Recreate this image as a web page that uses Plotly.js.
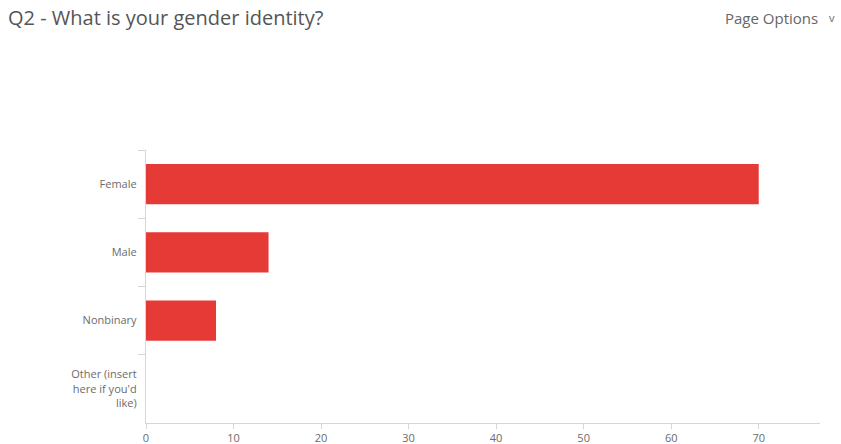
<!DOCTYPE html>
<html>
<head>
<meta charset="utf-8">
<script src="https://cdn.plot.ly/plotly-3.0.1.min.js"></script>
<style>html,body{margin:0;padding:0;background:#fff;}#chart{width:841px;height:444px;}</style>
</head>
<body>
<div id="chart"></div>
<script>
const categories = ["Female", "Male", "Nonbinary", "Other (insert<br>here if you'd<br>like)"];
const counts = [70, 14, 8, 0];
const xTicks = [0, 10, 20, 30, 40, 50, 60, 70];
const chartTitle = "Q2 - What is your gender identity?";
const menuLabel = "Page Options";
const menuIcon = "v";

const trace = {
  type: "bar",
  orientation: "h",
  y: categories,
  x: counts,
  width: 0.59,
  marker: {color: "#e63a36"},
  hoverinfo: "x+y"
};

const layout = {
  width: 841, height: 444,
  margin: {l: 146, r: 21, t: 150, b: 21, pad: 0},
  paper_bgcolor: "#fff", plot_bgcolor: "#fff",
  font: {family: "Open Sans, sans-serif", size: 11, color: "#6b6b6b"},
  showlegend: false,
  xaxis: {
    range: [0, 77], tickvals: xTicks, ticktext: xTicks.map(String),
    showgrid: false, zeroline: false, showline: true, linecolor: "#d6d6d6", linewidth: 1.3,
    ticks: "outside", ticklen: 5, tickcolor: "#d6d6d6", tickwidth: 1,
    tickfont: {size: 11, color: "#6b6b6b"}, fixedrange: true
  },
  yaxis: {
    type: "category", autorange: "reversed",
    showgrid: false, zeroline: false, showline: true, linecolor: "#d6d6d6", linewidth: 1.3,
    ticks: "outside", tickson: "boundaries", ticklen: 7, tickcolor: "#d6d6d6", tickwidth: 1,
    ticklabelstandoff: 6,
    tickfont: {size: 11, color: "#6b6b6b"}, fixedrange: true
  },
  annotations: [
    {text: chartTitle, xref: "paper", yref: "paper", x: -140/674, y: 1 + 132/273, xanchor: "left", yanchor: "middle",
     showarrow: false, font: {size: 20, color: "#555"}},
    {text: menuLabel, xref: "paper", yref: "paper", x: 1 + 0/674, y: 1 + 132/273, xanchor: "right", yanchor: "middle",
     showarrow: false, font: {size: 15, color: "#666"}},
    {text: menuIcon, xref: "paper", yref: "paper", x: 1 + 17/674, y: 1 + 132/273, xanchor: "right", yanchor: "middle",
     showarrow: false, font: {size: 11, color: "#666"}}
  ]
};

Plotly.newPlot("chart", [trace], layout, {displayModeBar: false});
</script>
</body>
</html>
